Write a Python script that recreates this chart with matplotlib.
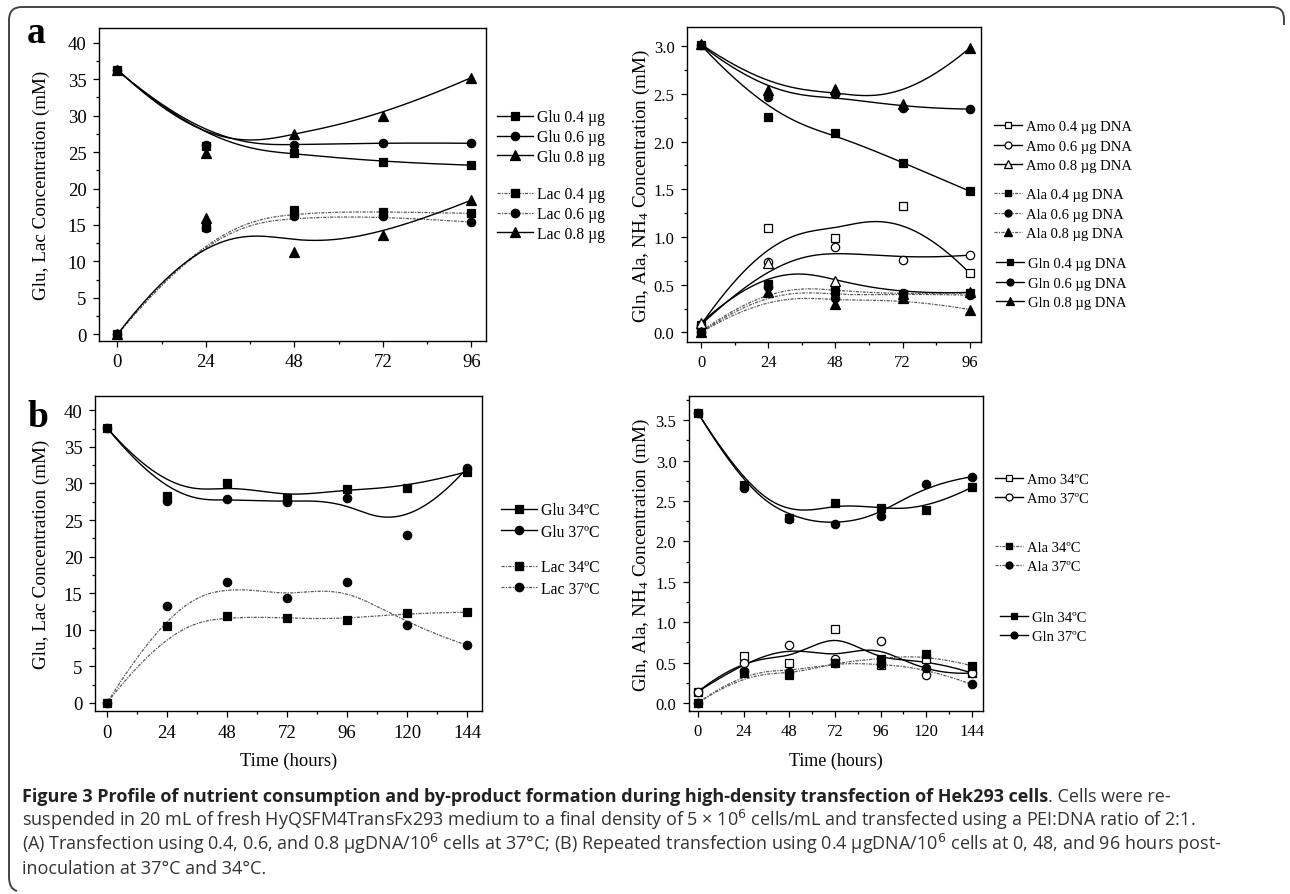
import numpy as np
import matplotlib
matplotlib.use("Agg")
import matplotlib.pyplot as plt
from matplotlib.path import Path
from matplotlib.patches import PathPatch
from matplotlib.lines import Line2D
from matplotlib.ticker import MultipleLocator, FormatStrFormatter

# ---- data ----
hours_a = [0, 24, 48, 72, 96]
glu_04 = [36.2, 25.8, 24.8, 23.6, 23.2]
glu_06 = [36.2, 26.0, 25.9, 26.3, 26.2]
glu_08 = [36.3, 24.9, 27.5, 29.9, 35.2]
lac_04 = [0.0, 14.7, 17.1, 16.8, 16.6]
lac_06 = [0.0, 14.6, 16.3, 16.2, 15.4]
lac_08 = [0.0, 15.9, 11.3, 13.6, 18.4]

gln_04 = [3.01, 2.26, 2.09, 1.78, 1.48]
gln_06 = [3.01, 2.47, 2.50, 2.35, 2.34]
gln_08 = [3.02, 2.54, 2.55, 2.39, 2.98]
amo_04 = [0.08, 1.09, 0.99, 1.33, 0.62]
amo_06 = [0.08, 0.74, 0.90, 0.76, 0.81]
amo_08 = [0.10, 0.73, 0.54, 0.40, 0.42]
ala_04 = [0.01, 0.51, 0.43, 0.40, 0.41]
ala_06 = [0.00, 0.48, 0.36, 0.41, 0.39]
ala_08 = [0.00, 0.42, 0.30, 0.36, 0.24]

hours_b = [0, 24, 48, 72, 96, 120, 144]
glu_34 = [37.6, 28.3, 30.1, 28.0, 29.3, 29.4, 31.6]
glu_37 = [37.6, 27.6, 27.9, 27.4, 28.0, 22.9, 32.1]
lac_34 = [0.0, 10.5, 11.9, 11.6, 11.4, 12.3, 12.4]
lac_37 = [0.0, 13.2, 16.5, 14.3, 16.5, 10.6, 7.9]

gln_34 = [3.59, 2.70, 2.29, 2.47, 2.41, 2.39, 2.67]
gln_37 = [3.59, 2.66, 2.28, 2.21, 2.31, 2.71, 2.80]
amo_34 = [0.14, 0.58, 0.49, 0.92, 0.47, 0.55, 0.37]
amo_37 = [0.14, 0.50, 0.72, 0.54, 0.77, 0.34, 0.37]
ala_34 = [0.00, 0.37, 0.34, 0.50, 0.55, 0.60, 0.46]
ala_37 = [0.00, 0.40, 0.38, 0.50, 0.48, 0.43, 0.23]

plt.rcParams['font.family'] = ['Liberation Serif', 'DejaVu Serif']
plt.rcParams['mathtext.fontset'] = 'custom'
plt.rcParams['mathtext.rm'] = 'Liberation Serif'
plt.rcParams['mathtext.it'] = 'Liberation Serif:italic'

W, H = 1290, 895
fig = plt.figure(figsize=(W / 100, H / 100), dpi=100)

DOT = (2.5, 1.0, 1.0, 1.0)


def bspline(x, y, n=300):
    # clamped cubic B-spline using the data points as control points
    P = np.column_stack([x, y]).astype(float)
    k = 3
    m = len(P)
    t = np.concatenate([[0.0] * k, np.linspace(0, 1, m - k + 1), [1.0] * k])
    u = np.linspace(0, 1, n)
    N = np.zeros((n, len(t) - 1))
    for i in range(len(t) - 1):
        N[:, i] = (t[i] <= u) & (u < t[i + 1])
    N[-1, m - 1] = 1.0
    for d in range(1, k + 1):
        Nn = np.zeros((n, len(t) - 1 - d))
        for i in range(len(t) - 1 - d):
            a = t[i + d] - t[i]
            b = t[i + d + 1] - t[i + 1]
            if a > 0:
                Nn[:, i] += (u - t[i]) / a * N[:, i]
            if b > 0:
                Nn[:, i] += (t[i + d + 1] - u) / b * N[:, i + 1]
        N = Nn
    return N @ P


def series(ax, x, y, marker, dotted=False, filled=True):
    c = bspline(x, y)
    if dotted:
        ax.plot(c[:, 0], c[:, 1], color='0.35', lw=0.9, dashes=DOT, zorder=2)
    else:
        ax.plot(c[:, 0], c[:, 1], color='k', lw=1.0, zorder=2)
    ms = 7 if marker == '^' else 6
    ax.plot(x, y, ls='none', marker=marker, ms=ms, mfc='k' if filled else 'w',
            mec='k', mew=0.9, zorder=3)


def handle(marker, dotted=False, filled=True, ms=6):
    if marker == '^':
        ms += 1
    if dotted:
        return Line2D([], [], color='0.35', lw=0.9, dashes=DOT, marker=marker, ms=ms,
                      mfc='k', mec='k')
    return Line2D([], [], color='k', lw=1.0, marker=marker, ms=ms,
                  mfc='k' if filled else 'w', mec='k', mew=0.9)


def make_axes(l, t, r, b, tsize):
    ax = fig.add_axes([l / W, 1 - b / H, (r - l) / W, (b - t) / H])
    for s in ax.spines.values():
        s.set_linewidth(1.0)
    ax.tick_params(which='both', direction='out', top=False, right=False, labelsize=tsize)
    ax.tick_params(which='major', length=4, width=0.9, pad=5)
    ax.tick_params(which='minor', length=2.5, width=0.9)
    return ax


def legend(handles, labels, x, y, size=11.3, hl=2.3, sp=0.25):
    fig.legend(handles, labels, loc='center left', bbox_to_anchor=(x / W, 1 - y / H),
               frameon=False, fontsize=size, handlelength=hl, handletextpad=0.25,
               labelspacing=sp, borderpad=0, borderaxespad=0, numpoints=1)


def rlegend(handles, labels, x, y, sp=0.44):
    legend(handles, labels, x, y, size=10.5, hl=1.95, sp=sp)


# ---- panel a, left ----
ax1 = make_axes(99, 29, 486, 342, 13.5)
series(ax1, hours_a, glu_04, 's')
series(ax1, hours_a, glu_06, 'o')
series(ax1, hours_a, glu_08, '^')
series(ax1, hours_a, lac_04, 's', dotted=True)
series(ax1, hours_a, lac_06, 'o', dotted=True)
series(ax1, hours_a, lac_08, '^')
ax1.set_xlim(-5, 100)
ax1.set_ylim(-0.9, 42)
ax1.xaxis.set_major_locator(MultipleLocator(24))
ax1.xaxis.set_minor_locator(MultipleLocator(12))
ax1.yaxis.set_major_locator(MultipleLocator(5))
ax1.yaxis.set_minor_locator(MultipleLocator(2.5))
ax1.set_ylabel('Glu, Lac Concentration (mM)', fontsize=13.8)
ax1.yaxis.set_label_coords(-(99 - 50) / 387, 0.5)
legend([handle('s'), handle('o'), handle('^')],
       ['Glu 0.4 µg', 'Glu 0.6 µg', 'Glu 0.8 µg'], 497, 138)
legend([handle('s', True), handle('o', True), handle('^')],
       ['Lac 0.4 µg', 'Lac 0.6 µg', 'Lac 0.8 µg'], 497, 215)

# ---- panel a, right ----
ax2 = make_axes(687, 28, 981, 343, 12)
series(ax2, hours_a, gln_04, 's')
series(ax2, hours_a, gln_06, 'o')
series(ax2, hours_a, gln_08, '^')
series(ax2, hours_a, amo_04, 's', filled=False)
series(ax2, hours_a, amo_06, 'o', filled=False)
series(ax2, hours_a, amo_08, '^', filled=False)
series(ax2, hours_a, ala_04, 's', dotted=True)
series(ax2, hours_a, ala_06, 'o', dotted=True)
series(ax2, hours_a, ala_08, '^', dotted=True)
ax2.set_xlim(-5, 100)
ax2.set_ylim(-0.1, 3.2)
ax2.xaxis.set_major_locator(MultipleLocator(24))
ax2.xaxis.set_minor_locator(MultipleLocator(12))
ax2.yaxis.set_major_locator(MultipleLocator(0.5))
ax2.yaxis.set_minor_locator(MultipleLocator(0.25))
ax2.yaxis.set_major_formatter(FormatStrFormatter('%.1f'))
ax2.set_ylabel('Gln, Ala, NH$_4$ Concentration (mM)', fontsize=13.8)
ax2.yaxis.set_label_coords(-(687 - 652) / 294, 0.5)
rlegend([handle('s', filled=False, ms=5), handle('o', filled=False, ms=5),
         handle('^', filled=False, ms=5)],
        ['Amo 0.4 µg DNA', 'Amo 0.6 µg DNA', 'Amo 0.8 µg DNA'], 994, 147)
rlegend([handle('s', True, ms=5), handle('o', True, ms=5), handle('^', True, ms=5)],
        ['Ala 0.4 µg DNA', 'Ala 0.6 µg DNA', 'Ala 0.8 µg DNA'], 994, 215)
rlegend([handle('s', ms=5), handle('o', ms=5), handle('^', ms=5)],
        ['Gln 0.4 µg DNA', 'Gln 0.6 µg DNA', 'Gln 0.8 µg DNA'], 996, 284)

# ---- panel b, left ----
ax3 = make_axes(95, 397, 482, 712, 13.5)
series(ax3, hours_b, glu_34, 's')
series(ax3, hours_b, glu_37, 'o')
series(ax3, hours_b, lac_34, 's', dotted=True)
series(ax3, hours_b, lac_37, 'o', dotted=True)
ax3.set_xlim(-4.8, 150)
ax3.set_ylim(-1.1, 41.95)
ax3.xaxis.set_major_locator(MultipleLocator(24))
ax3.xaxis.set_minor_locator(MultipleLocator(12))
ax3.yaxis.set_major_locator(MultipleLocator(5))
ax3.yaxis.set_minor_locator(MultipleLocator(2.5))
ax3.set_ylabel('Glu, Lac Concentration (mM)', fontsize=13.8)
ax3.yaxis.set_label_coords(-(95 - 50) / 387, 0.5)
ax3.set_xlabel('Time (hours)', fontsize=13.4)
ax3.xaxis.set_label_coords(0.5, -41 / 315)
legend([handle('s'), handle('o')], ['Glu 34ºC', 'Glu 37ºC'], 501, 522, sp=0.33)
legend([handle('s', True), handle('o', True)], ['Lac 34ºC', 'Lac 37ºC'], 501, 579, sp=0.33)

# ---- panel b, right ----
ax4 = make_axes(689, 397, 983, 712, 12)
series(ax4, hours_b, gln_34, 's')
series(ax4, hours_b, gln_37, 'o')
series(ax4, hours_b, amo_34, 's', filled=False)
series(ax4, hours_b, amo_37, 'o', filled=False)
series(ax4, hours_b, ala_34, 's', dotted=True)
series(ax4, hours_b, ala_37, 'o', dotted=True)
ax4.set_xlim(-4.7, 149.8)
ax4.set_ylim(-0.1, 3.8)
ax4.xaxis.set_major_locator(MultipleLocator(24))
ax4.xaxis.set_minor_locator(MultipleLocator(12))
ax4.yaxis.set_major_locator(MultipleLocator(0.5))
ax4.yaxis.set_minor_locator(MultipleLocator(0.25))
ax4.yaxis.set_major_formatter(FormatStrFormatter('%.1f'))
ax4.set_ylabel('Gln, Ala, NH$_4$ Concentration (mM)', fontsize=13.8)
ax4.yaxis.set_label_coords(-(689 - 652) / 294, 0.5)
ax4.set_xlabel('Time (hours)', fontsize=13)
ax4.xaxis.set_label_coords(0.5, -41 / 315)
rlegend([handle('s', filled=False, ms=5), handle('o', filled=False, ms=5)],
        ['Amo 34ºC', 'Amo 37ºC'], 995, 490)
rlegend([handle('s', True, ms=5), handle('o', True, ms=5)],
        ['Ala 34ºC', 'Ala 37ºC'], 995, 558)
rlegend([handle('s', ms=5), handle('o', ms=5)], ['Gln 34ºC', 'Gln 37ºC'], 1000, 628)

# panel letters
fig.text(27 / W, 1 - 43 / H, 'a', fontsize=27, fontweight='bold', va='baseline')
fig.text(27 / W, 1 - 427 / H, 'b', fontsize=27, fontweight='bold', va='baseline')

# outer frame (rounded top corners, open on the right)
pts = [(1284, 26), (1284, 20), (1284, 8), (1272, 8), (22, 8), (9, 8), (9, 21),
       (9, 878), (9, 890), (17, 892)]
codes = [Path.MOVETO, Path.LINETO, Path.CURVE3, Path.CURVE3, Path.LINETO,
         Path.CURVE3, Path.CURVE3, Path.LINETO, Path.CURVE3, Path.CURVE3]
verts = [(x / W, 1 - y / H) for x, y in pts]
fig.patches.append(PathPatch(Path(verts, codes), transform=fig.transFigure,
                             fill=False, lw=1.4, edgecolor='#444444'))

# caption
cap_font = ['Open Sans', 'DejaVu Sans']
CS = 13
cap_kw = dict(fontsize=CS, family=cap_font, color='#333333', va='baseline',
              math_fontfamily='dejavusans')
t1 = fig.text(22 / W, 1 - 802 / H,
              'Figure 3 Profile of nutrient consumption and by-product formation during '
              'high-density transfection of Hek293 cells', fontweight='bold',
              fontsize=CS, family=cap_font, color='#222222', va='baseline')
fig.add_artist(plt.Annotation('. Cells were re-', xy=(1, 0), xycoords=t1,
                              va='bottom', ha='left', fontsize=CS, family=cap_font,
                              color='#333333'))
fig.text(22 / W, 1 - 826 / H,
         'suspended in 20 mL of fresh HyQSFM4TransFx293 medium to a final density of '
         '5 × 10$^6$ cells/mL and transfected using a PEI:DNA ratio of 2:1.', **cap_kw)
fig.text(22 / W, 1 - 850 / H,
         '(A) Transfection using 0.4, 0.6, and 0.8 μgDNA/10$^6$ cells at 37°C; '
         '(B) Repeated transfection using 0.4 μgDNA/10$^6$ cells at 0, 48, and 96 hours post-',
         **cap_kw)
fig.text(22 / W, 1 - 874 / H, 'inoculation at 37°C and 34°C.', **cap_kw)

fig.savefig('out.png', dpi=100)
